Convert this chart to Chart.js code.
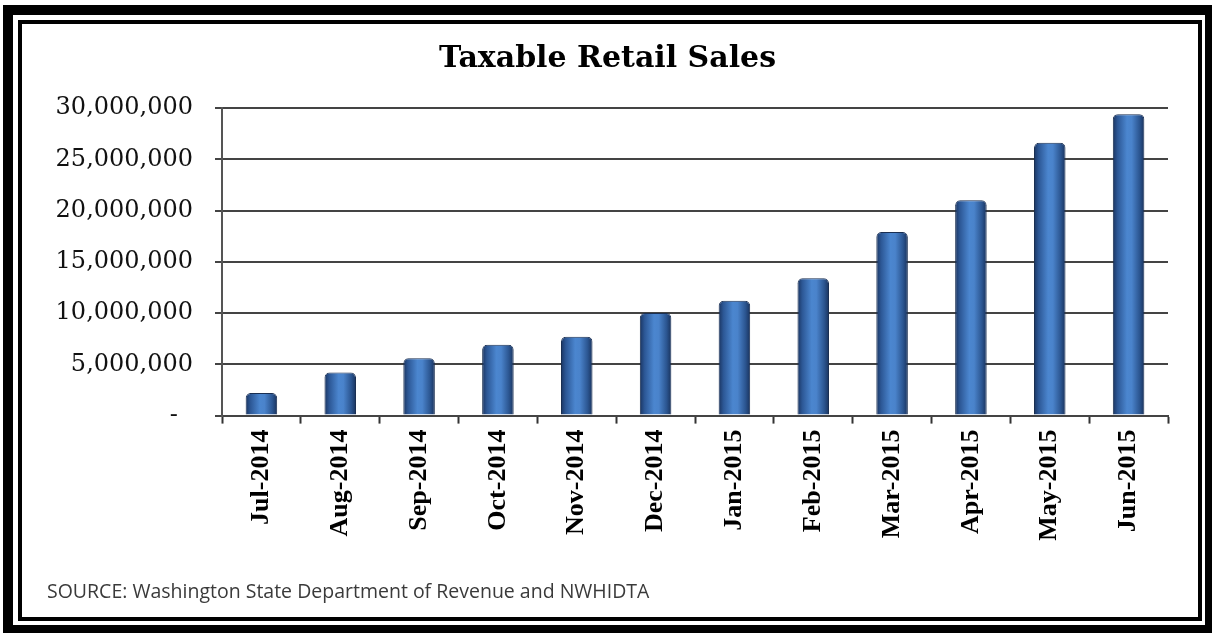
<!DOCTYPE html>
<html>
<head>
<meta charset="utf-8">
<script src="https://cdn.jsdelivr.net/npm/chart.js@4/dist/chart.umd.min.js"></script>
<style>
  html, body { margin: 0; padding: 0; background: #fff; }
  .page { position: relative; width: 1212px; height: 633px; overflow: hidden; }
  /* marco doble */
  .frameOuter {
    position: absolute; left: 3px; top: 5px; right: 0; bottom: 0;
    border-style: solid; border-color: #000;
    border-width: 10px 7px 8px 10px;
  }
  .frameInner {
    position: absolute; left: 18px; top: 20px; right: 10px; bottom: 12px;
    border: 4px solid #000;
  }
  canvas { position: absolute; left: 0; top: 0; }
</style>
</head>
<body>
<div class="page">
  <div class="frameOuter"></div>
  <div class="frameInner"></div>
  <canvas id="myChart" width="1212" height="633"></canvas>
</div>
<script>
// Datos del grafico
const months = ['Jul-2014', 'Aug-2014', 'Sep-2014', 'Oct-2014', 'Nov-2014', 'Dec-2014',
                'Jan-2015', 'Feb-2015', 'Mar-2015', 'Apr-2015', 'May-2015', 'Jun-2015'];
const sales = [2200000, 4200000, 5600000, 6900000, 7700000, 10000000,
               11200000, 13400000, 17900000, 21000000, 26600000, 29400000];
const yTicks = [0, 5000000, 10000000, 15000000, 20000000, 25000000, 30000000];

const chartTitle = 'Taxable Retail Sales';
const sourceText = 'SOURCE: Washington State Department of Revenue and NWHIDTA';

const ctx = document.getElementById('myChart');
const barPct = 0.4;

// Degradado horizontal tipo cilindro para cada barra
const barGradient = (c) => {
    const chart = c.chart;
    const area = chart.chartArea;
    if (!area || !chart.scales.x) {
        return '#3d6db0';
    }
    const x = chart.scales.x.getPixelForValue(c.dataIndex);
    const w = (area.width / months.length) * barPct;
    const g = chart.ctx.createLinearGradient(x - w / 2, 0, x + w / 2, 0);
    g.addColorStop(0, '#1a3460');
    g.addColorStop(0.15, '#2c5795');
    g.addColorStop(0.45, '#4b86cf');
    g.addColorStop(0.6, '#4a83cb');
    g.addColorStop(0.85, '#2b5590');
    g.addColorStop(1, '#19325c');
    return g;
};

const myChart = new Chart(ctx, {
    type: 'bar',
    data: {
        labels: months,
        datasets: [{
            data: sales,
            backgroundColor: barGradient,
            borderColor: '#1a2f52',
            borderWidth: 1,
            borderRadius: 5,
            borderSkipped: 'start',
            categoryPercentage: 1,
            barPercentage: barPct
        }]
    },
    options: {
        responsive: false,
        animation: false,
        layout: {
            padding: { left: 47, right: 44, top: 0, bottom: 0 }
        },
        scales: {
            x: {
                grid: {
                    display: true,
                    drawOnChartArea: false,
                    drawTicks: true,
                    tickLength: 8,
                    tickWidth: 2,
                    tickColor: '#333'
                },
                border: { color: '#444', width: 2 },
                ticks: {
                    color: '#000',
                    minRotation: 90,
                    maxRotation: 90,
                    autoSkip: false,
                    padding: 6,
                    font: { family: '"Liberation Serif", serif', size: 26, weight: 'bold' }
                },
                afterFit: (scale) => { scale.height = 155; }
            },
            y: {
                min: 0,
                max: 30000000,
                afterBuildTicks: (scale) => {
                    scale.ticks = yTicks.map(v => ({ value: v }));
                },
                grid: {
                    color: '#444',
                    lineWidth: 2,
                    tickLength: 7,
                    tickColor: '#444'
                },
                border: { color: '#555', width: 2 },
                ticks: {
                    color: '#111',
                    padding: 22,
                    font: { family: '"DejaVu Serif", serif', size: 24 },
                    callback: (v) => v === 0 ? '-  ' : v.toLocaleString('en-US')
                },
                afterFit: (scale) => { scale.width = 222 - 47; }
            }
        },
        plugins: {
            legend: { display: false },
            tooltip: { enabled: false },
            title: {
                display: true,
                text: chartTitle,
                color: '#000',
                font: { family: '"DejaVu Serif", serif', size: 30, weight: 'bold' },
                padding: { top: 41, bottom: 31 }
            },
            subtitle: {
                display: true,
                position: 'bottom',
                align: 'start',
                text: sourceText,
                color: '#3a3a3a',
                font: { family: '"Open Sans", sans-serif', size: 19.5 },
                padding: { top: 10, bottom: 29 }
            }
        }
    }
});
</script>
</body>
</html>
